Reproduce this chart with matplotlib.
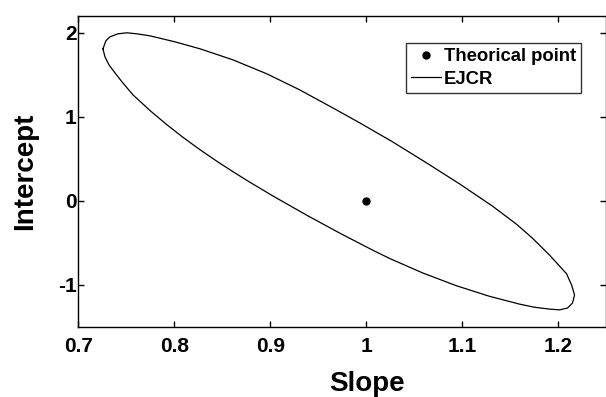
import matplotlib
matplotlib.use("Agg")
import matplotlib.pyplot as plt

# EJCR outline (slope, intercept), going clockwise
# from the leftmost point
ejcr_slope = [0.7255, 0.7286, 0.7328, 0.7411, 0.7505, 0.7609, 0.7745, 0.8005,
              0.8266, 0.8609, 0.8964, 0.9307, 0.9651, 0.9932, 1.0276, 1.0630,
              1.0974, 1.1318, 1.1568, 1.1734, 1.1911, 1.2089, 1.2141, 1.2172,
              1.2151, 1.2099, 1.2016, 1.1911, 1.1755, 1.1599, 1.1286, 1.0943,
              1.0589, 1.0245, 1.0068, 0.9724, 0.9380, 0.9026, 0.8786, 0.8609,
              0.8443, 0.8266, 0.8089, 0.7922, 0.7745, 0.7568, 0.7453, 0.7380,
              0.7318, 0.7276, 0.7255]
ejcr_intercept = [1.810, 1.905, 1.952, 1.988, 2.000, 1.988, 1.964, 1.893,
                  1.810, 1.679, 1.512, 1.321, 1.107, 0.929, 0.702, 0.452,
                  0.202, -0.063, -0.278, -0.444, -0.644, -0.867, -1.000, -1.119,
                  -1.214, -1.274, -1.296, -1.287, -1.265, -1.228, -1.135, -1.010,
                  -0.857, -0.685, -0.586, -0.383, -0.170, 0.060, 0.223, 0.349,
                  0.472, 0.610, 0.757, 0.906, 1.076, 1.262, 1.417, 1.524,
                  1.619, 1.714, 1.810]

# theoretical point
theo_slope = [1.0]
theo_intercept = [0.0]

xticks = [0.7, 0.8, 0.9, 1.0, 1.1, 1.2]
xticklabels = ["0.7", "0.8", "0.9", "1", "1.1", "1.2"]
yticks = [-1, 0, 1, 2]


def main():
    plt.rcParams["font.family"] = ["Liberation Sans", "DejaVu Sans"]
    plt.rcParams["font.weight"] = "bold"
    plt.rcParams["axes.unicode_minus"] = False

    fig = plt.figure(figsize=(6.06, 3.97), dpi=100)
    ax = fig.add_axes([0.1295, 0.1763, 0.8705, 0.7834])

    ax.plot(theo_slope, theo_intercept, "o", color="black", markersize=5,
            linestyle="none", label="Theorical point")
    ax.plot(ejcr_slope, ejcr_intercept, "-", color="black", linewidth=0.9,
            label="EJCR")

    ax.set_xlim(0.7, 1.25)
    ax.set_ylim(-1.5, 2.2)
    ax.set_xticks(xticks)
    ax.set_xticklabels(xticklabels)
    ax.set_yticks(yticks)
    ax.tick_params(direction="in", length=4, width=1, top=True, right=True,
                   labelsize=15)
    ax.tick_params(axis="x", pad=7)
    ax.tick_params(axis="y", pad=1.5)
    for s in ax.spines.values():
        s.set_linewidth(1.0)

    ax.set_xlabel("Slope", fontsize=20, fontweight="bold")
    ax.set_ylabel("Intercept", fontsize=20, fontweight="bold")
    ax.xaxis.set_label_coords(0.547, -0.14)
    ax.yaxis.set_label_coords(-0.077, 0.5)

    leg = ax.legend(loc="upper right", bbox_to_anchor=(0.9526, 0.913),
                    fontsize=13.3, frameon=True, fancybox=False,
                    handlelength=1.6, handletextpad=0.15, borderpad=0.28,
                    labelspacing=0.3, borderaxespad=0)
    leg.get_frame().set_edgecolor("black")
    leg.get_frame().set_linewidth(1.0)

    fig.savefig("out.png", dpi=100)
    plt.close(fig)


if __name__ == "__main__":
    main()
